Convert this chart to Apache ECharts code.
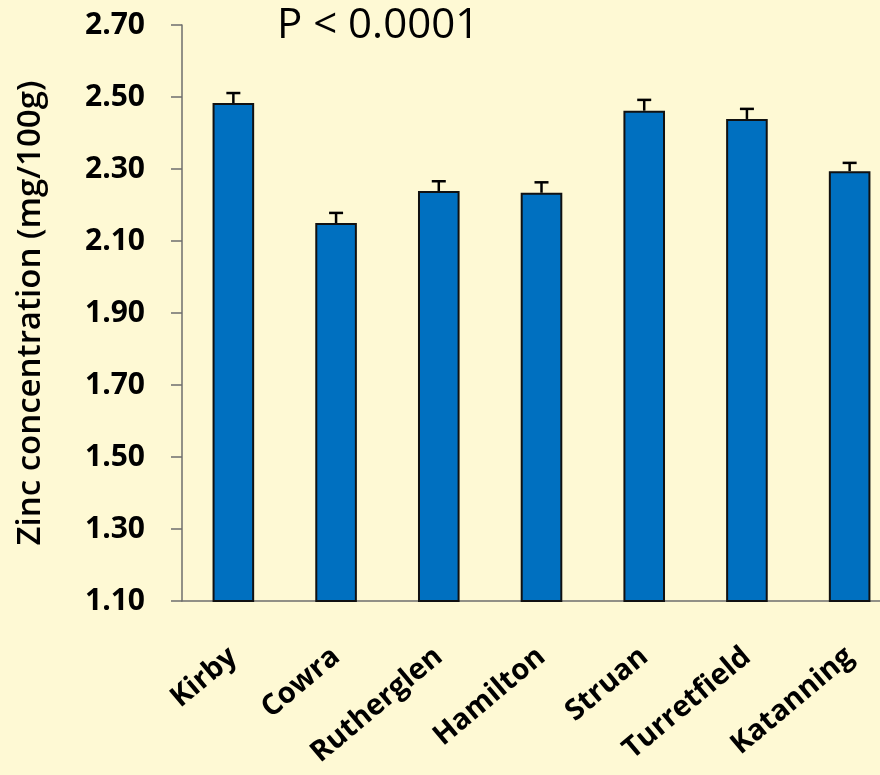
<!DOCTYPE html>
<html>
<head>
<meta charset="utf-8">
<script src="https://cdn.jsdelivr.net/npm/echarts@6/dist/echarts.min.js"></script>
<style>
html,body{margin:0;padding:0;background:#FEF9D4;overflow:hidden;width:880px;height:775px;}
#chart{width:910px;height:775px;}
</style>
</head>
<body>
<div id="chart"></div>
<script>
var categories = ['Kirby', 'Cowra', 'Rutherglen', 'Hamilton', 'Struan', 'Turretfield', 'Katanning'];
var means = [2.483, 2.150, 2.239, 2.234, 2.462, 2.439, 2.294];
var errors = [0.028, 0.028, 0.027, 0.029, 0.030, 0.028, 0.023];
var yTicks = ['1.10', '1.30', '1.50', '1.70', '1.90', '2.10', '2.30', '2.50', '2.70'];

var errData = means.map(function (m, i) { return [i, m, m + errors[i]]; });

var chart = echarts.init(document.getElementById('chart'));
var font = '"Open Sans", "Noto Sans", sans-serif';
chart.setOption({
  backgroundColor: '#FEF9D4',
  animation: false,
  title: {
    text: 'P < 0.0001',
    left: 272, top: 0,
    textStyle: { fontFamily: font, fontSize: 42, fontWeight: 'normal', color: '#000' }
  },
  grid: { left: 182, top: 25, width: 719, height: 576 },
  xAxis: {
    type: 'category',
    data: categories,
    axisLine: { lineStyle: { color: '#6e6e6e', width: 1.5 } },
    axisTick: { length: 10, lineStyle: { color: '#6e6e6e', width: 1.5 } },
    axisLabel: {
      rotate: 40, margin: 52, color: '#000',
      fontFamily: font, fontSize: 29, fontWeight: 'bold', interval: 0
    }
  },
  yAxis: {
    type: 'value',
    min: 1.1, max: 2.7, interval: 0.2,
    name: 'Zinc concentration (mg/100g)',
    nameLocation: 'middle', nameGap: 135, nameRotate: 90,
    nameTextStyle: { fontFamily: font, fontSize: 33, fontWeight: 600, color: '#000' },
    splitLine: { show: false },
    axisLine: { show: true, lineStyle: { color: '#6e6e6e', width: 1.5 } },
    axisTick: { show: true, length: 11, lineStyle: { color: '#6e6e6e', width: 1.5 } },
    axisLabel: {
      margin: 37, color: '#000', fontFamily: font, fontSize: 30, fontWeight: 'bold',
      formatter: function (v) {
        var idx = Math.round((v - 1.1) / 0.2);
        return yTicks[idx] !== undefined ? yTicks[idx] : v.toFixed(2);
      }
    }
  },
  series: [
    {
      type: 'bar',
      data: means,
      barWidth: '40.5%',
      itemStyle: { color: '#0070C0', borderColor: '#111', borderWidth: 2 }
    },
    {
      type: 'custom',
      data: errData,
      encode: { x: 0, y: [1, 2] },
      z: 3,
      renderItem: function (params, api) {
        var i = api.value(0);
        var base = api.coord([i, api.value(1)]);
        var top = api.coord([i, api.value(2)]);
        var half = 7;
        var st = { stroke: '#000', lineWidth: 2.5 };
        return {
          type: 'group',
          children: [
            { type: 'line', shape: { x1: base[0], y1: base[1], x2: top[0], y2: top[1] }, style: st },
            { type: 'line', shape: { x1: top[0] - half, y1: top[1], x2: top[0] + half, y2: top[1] }, style: st }
          ]
        };
      }
    }
  ]
});
</script>
</body>
</html>
